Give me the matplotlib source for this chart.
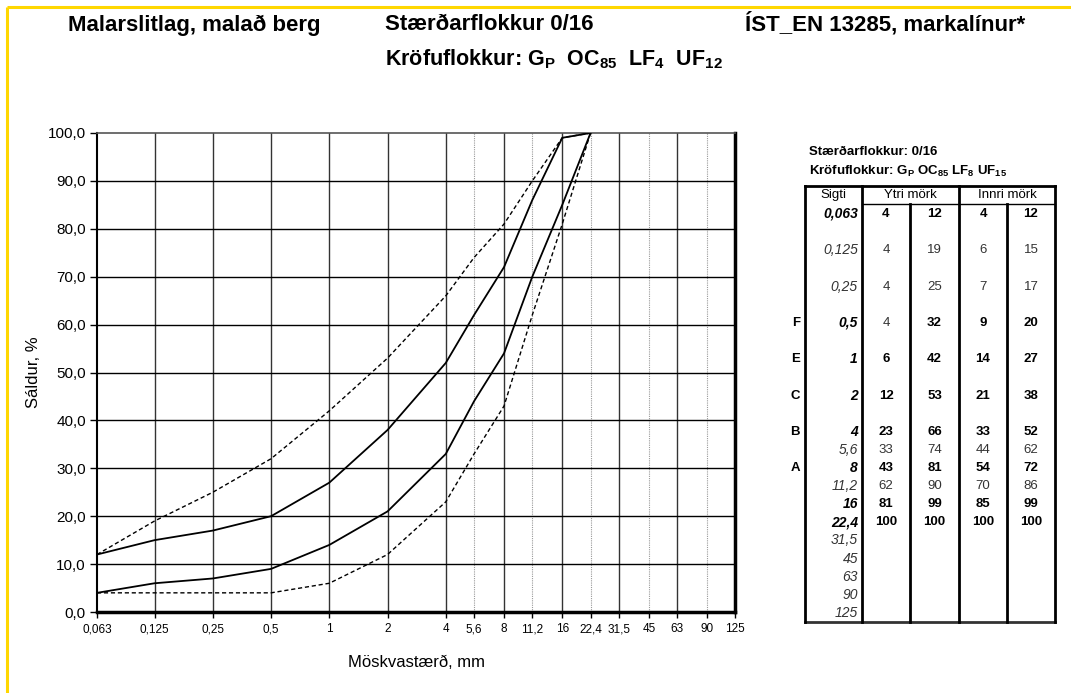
import numpy as np
import matplotlib
matplotlib.use("Agg")
import matplotlib.pyplot as plt
from matplotlib.ticker import FixedLocator, FuncFormatter, NullLocator

plt.rcParams['font.family'] = ['Liberation Sans', 'DejaVu Sans']
plt.rcParams['mathtext.fontset'] = 'custom'
plt.rcParams['mathtext.rm'] = 'Liberation Sans'
plt.rcParams['mathtext.bf'] = 'Liberation Sans:bold'
plt.rcParams['mathtext.it'] = 'Liberation Sans:italic'

# sieve sizes (mm) shown on the x axis and in the table
sieves = [0.063, 0.125, 0.25, 0.5, 1, 2, 4, 5.6, 8, 11.2, 16, 22.4, 31.5, 45, 63, 90, 125]
major_sieves = [0.063, 0.125, 0.25, 0.5, 1, 2, 4, 8, 16, 31.5, 63, 125]
minor_sieves = [5.6, 11.2, 22.4, 45, 90]

# grading limits (passing %) for sieves 0,063 .. 22,4
ytri_low = [4, 4, 4, 4, 6, 12, 23, 33, 43, 62, 81, 100]
ytri_high = [12, 19, 25, 32, 42, 53, 66, 74, 81, 90, 99, 100]
innri_low = [4, 6, 7, 9, 14, 21, 33, 44, 54, 70, 85, 100]
innri_high = [12, 15, 17, 20, 27, 38, 52, 62, 72, 86, 99, 100]

row_letters = ['', '', '', 'F', 'E', 'C', 'B', '', 'A', '', '', '', '', '', '', '', '']
sieve_bold = [1, 0, 0, 1, 1, 1, 1, 0, 1, 0, 1, 1, 0, 0, 0, 0, 0]
# bold flags for the four value columns, per row
value_bold = [[1, 1, 1, 1], [0, 0, 0, 0], [0, 0, 0, 0], [0, 1, 1, 1],
              [1, 1, 1, 1], [1, 1, 1, 1], [1, 1, 1, 1], [0, 0, 0, 0],
              [1, 1, 1, 1], [0, 0, 0, 0], [1, 1, 1, 1], [1, 1, 1, 1]]


def comma(v):
    return f"{v:g}".replace('.', ',')


W, H = 1071, 693
fig = plt.figure(figsize=(W / 100, H / 100), dpi=100)

# main grading chart
ax = fig.add_axes([97 / W, 1 - 612 / H, (735 - 97) / W, (612 - 133) / H])
ax.set_xscale('log', base=2)
ax.set_xlim(0.063, 125)
ax.set_ylim(0, 100)

x = sieves[:len(ytri_low)]
ax.plot(x, ytri_low, color='black', lw=1.0, ls=(0, (3, 2)), zorder=3)
ax.plot(x, ytri_high, color='black', lw=1.0, ls=(0, (3, 2)), zorder=3)
ax.plot(x, innri_low, color='black', lw=1.3, zorder=3)
ax.plot(x, innri_high, color='black', lw=1.3, zorder=3)

for s in major_sieves[1:-1]:
    ax.axvline(s, color='#333333', lw=1.0, zorder=1)
for s in minor_sieves:
    ax.axvline(s, color='#999999', lw=0.8, ls=(0, (1, 1)), zorder=1)
for yv in range(10, 100, 10):
    ax.axhline(yv, color='black', lw=1.0, zorder=1)

ax.xaxis.set_major_locator(FixedLocator(sieves))
ax.xaxis.set_minor_locator(NullLocator())
ax.xaxis.set_major_formatter(FuncFormatter(lambda v, p: comma(round(v, 3))))
ax.set_yticks(np.arange(0, 101, 10))
ax.yaxis.set_major_formatter(FuncFormatter(lambda v, p: f"{v:.1f}".replace('.', ',')))
ax.tick_params(axis='x', labelsize=8.5, length=4, width=1, pad=4)
ax.tick_params(axis='y', labelsize=11, length=5, width=1, pad=3)

ax.spines['bottom'].set_linewidth(2.5)
ax.spines['right'].set_linewidth(2.5)
ax.spines['left'].set_linewidth(1.5)
ax.spines['top'].set_color('#555555')
ax.spines['top'].set_linewidth(1.2)

ax.set_ylabel('Sáldur, %', fontsize=12, labelpad=5)
ax.set_xlabel('Möskvastærð, mm', fontsize=12, labelpad=14)

# overlay in pixel coordinates for titles, border and the side table
ov = fig.add_axes([0, 0, 1, 1], zorder=5)
ov.set_xlim(0, W)
ov.set_ylim(H, 0)
ov.axis('off')
ov.patch.set_alpha(0)

ov.plot([7, 7], [7, H], color='#FFD700', lw=2.2, solid_capstyle='butt')
ov.plot([7, W], [7, 7], color='#FFD700', lw=2.2, solid_capstyle='butt')

ov.text(68, 30.5, 'Malarslitlag, malað berg', fontsize=16, fontweight='bold', va='baseline')
ov.text(385, 30.5, 'Stærðarflokkur 0/16', fontsize=16, fontweight='bold', va='baseline')
ov.text(745, 30.5, 'ÍST_EN 13285, markalínur*', fontsize=16, fontweight='bold', va='baseline')
ov.text(385, 65, r'Kröfuflokkur: $\mathbf{G_P}$  $\mathbf{OC_{85}}$  $\mathbf{LF_4}$  $\mathbf{UF_{12}}$',
        fontsize=15.5, fontweight='bold', va='baseline')

ov.text(809, 152, 'Stærðarflokkur: 0/16', fontsize=9.5, fontweight='bold', va='center')
ov.text(809, 171, r'Kröfuflokkur: $\mathbf{G_P}$ $\mathbf{OC_{85}}$ $\mathbf{LF_8}$ $\mathbf{UF_{15}}$',
        fontsize=9.5, fontweight='bold', va='center')

# table frame
t_left, t_right, t_top, t_head, t_bot = 805, 1055, 186, 204, 622
c1, c2, c3, c4 = 862, 910, 959, 1007
lw_t = 2.0
ov.plot([t_left, t_right], [t_top, t_top], color='black', lw=lw_t)
ov.plot([c1, t_right], [t_head, t_head], color='black', lw=1.0)
ov.plot([t_left, t_right], [t_bot, t_bot], color='#333333', lw=lw_t)
for cx in [t_left, c1, c3, t_right]:
    ov.plot([cx, cx], [t_top, t_bot], color='black', lw=lw_t)
for cx in [c2, c4]:
    ov.plot([cx, cx], [t_head, t_bot], color='black', lw=lw_t)

ov.text((t_left + c1) / 2, 195, 'Sigti', fontsize=9.5, ha='center', va='center')
ov.text((c1 + c3) / 2, 195, 'Ytri mörk', fontsize=9.5, ha='center', va='center')
ov.text((c3 + t_right) / 2, 195, 'Innri mörk', fontsize=9.5, ha='center', va='center')

col_x = [(c1 + c2) / 2, (c2 + c3) / 2, (c3 + c4) / 2, (c4 + t_right) / 2]
y = 214
for i, s in enumerate(sieves):
    ov.text(858, y, comma(s), fontsize=10, style='italic', ha='right', va='center',
            fontweight='bold' if sieve_bold[i] else 'normal',
            color='black' if sieve_bold[i] else '#333333')
    if row_letters[i]:
        ov.text(800, y, row_letters[i], fontsize=9.5, fontweight='bold', ha='right', va='center')
    if i < len(ytri_low):
        vals = [ytri_low[i], ytri_high[i], innri_low[i], innri_high[i]]
        for j, v in enumerate(vals):
            b = value_bold[i][j]
            ov.text(col_x[j], y, str(v), fontsize=9.5, ha='center', va='center',
                    fontweight='bold' if b else 'normal',
                    color='black' if b else '#333333')
    y += 36.3 if i < 6 else 18.1

fig.savefig('out.png', dpi=100)
